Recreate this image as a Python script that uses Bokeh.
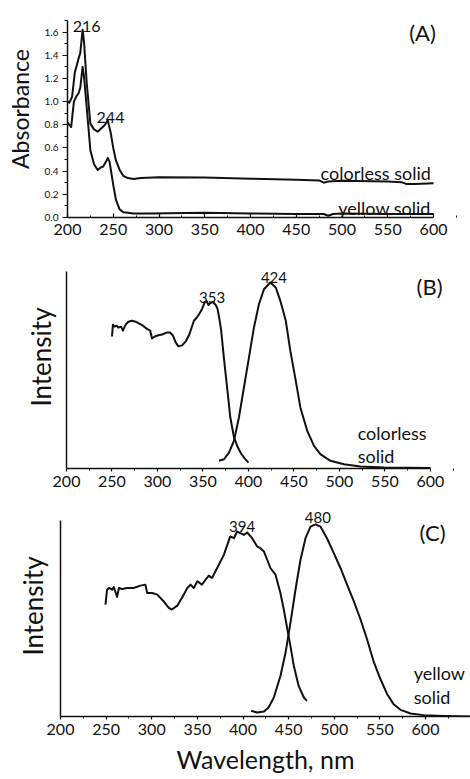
from bokeh.plotting import figure
from bokeh.models import Label, FixedTicker, Range1d
from bokeh.layouts import column, row
from bokeh.embed import file_html
from bokeh.resources import INLINE

FONT = "Lato"
INK = "#111111"

# ---------------- data ----------------
# (A) absorbance
wl_A_colorless = [200, 202, 205, 208, 210, 212, 214, 216.5, 218, 221, 225, 229, 233, 237, 241, 244,
                  247, 250, 253, 257, 261, 266, 272, 280, 300, 350, 400, 450, 475, 480, 485,
                  500, 550, 565, 570, 580, 600]
abs_A_colorless = [1.00, 0.99, 1.04, 1.25, 1.31, 1.37, 1.42, 1.62, 1.52, 1.16, 0.81, 0.76, 0.74, 0.77,
                   0.80, 0.84, 0.74, 0.60, 0.49, 0.41, 0.36, 0.34, 0.333, 0.34, 0.347, 0.345,
                   0.335, 0.325, 0.32, 0.30, 0.31, 0.318, 0.31, 0.305, 0.29, 0.29, 0.295]

wl_A_yellow = [200, 202, 204, 207, 210, 212, 214, 216.5, 218, 221, 225, 229, 233, 236, 239, 242,
               244, 246, 248, 250, 253, 257, 261, 266, 272, 290, 350, 400, 450, 480, 485,
               490, 500, 550, 600]
abs_A_yellow = [0.82, 0.80, 0.78, 1.00, 1.05, 1.07, 1.12, 1.30, 1.22, 0.95, 0.58, 0.46, 0.41, 0.43,
                0.44, 0.48, 0.515, 0.48, 0.38, 0.28, 0.15, 0.07, 0.045, 0.04, 0.035, 0.035,
                0.04, 0.035, 0.03, 0.03, 0.015, 0.03, 0.035, 0.03, 0.03]

# (B) colorless solid: excitation and emission
wl_B_exc = [250, 250.5, 251, 253, 255, 257, 260, 262, 265, 268, 272, 276, 280, 284, 288, 292,
            294, 297, 300, 305, 310, 314, 317, 320, 323, 327, 331, 335, 340, 343, 346, 349,
            352, 354, 356, 358, 361, 364, 366, 368, 370, 373, 377, 380, 384, 388, 392, 396, 400]
int_B_exc = [0.67, 0.70, 0.73, 0.72, 0.725, 0.715, 0.72, 0.70, 0.73, 0.745, 0.75, 0.745, 0.735,
             0.725, 0.71, 0.70, 0.66, 0.67, 0.675, 0.68, 0.69, 0.69, 0.675, 0.64, 0.62, 0.625,
             0.645, 0.68, 0.75, 0.765, 0.785, 0.81, 0.845, 0.85, 0.83, 0.84, 0.845, 0.83, 0.81,
             0.76, 0.70, 0.56, 0.39, 0.26, 0.16, 0.11, 0.075, 0.05, 0.03]

wl_B_em = [367.6, 373, 378.6, 384, 389.5, 395, 400.5, 406, 411.5, 417, 424, 430, 435, 441, 446,
           452, 457, 464.6, 472, 479, 490, 505, 523, 549, 600]
int_B_em = [0.039, 0.047, 0.081, 0.14, 0.259, 0.411, 0.563, 0.716, 0.834, 0.91, 0.944, 0.919,
            0.851, 0.75, 0.597, 0.445, 0.31, 0.191, 0.115, 0.073, 0.039, 0.022, 0.01, 0.005, 0.002]

# (C) yellow solid: excitation and emission
wl_C_exc = [249.3, 251, 253, 256.6, 258.4, 262, 264, 267.6, 273, 280, 287.7, 293, 295, 300.5,
            306, 313, 318.7, 322, 328, 333, 339, 342.5, 346, 350, 355, 359, 362.6, 366, 371.7,
            379, 386, 390, 393.6, 397, 401, 404.6, 410, 415.5, 419, 423, 426.5, 430, 435.6,
            441, 444.7, 448, 452, 455.7, 461, 466.7, 470]
int_C_exc = [0.571, 0.647, 0.656, 0.647, 0.661, 0.61, 0.656, 0.651, 0.656, 0.656, 0.668, 0.673,
             0.63, 0.63, 0.622, 0.588, 0.554, 0.546, 0.566, 0.605, 0.656, 0.673, 0.656, 0.69,
             0.673, 0.698, 0.719, 0.707, 0.758, 0.825, 0.919, 0.91, 0.944, 0.936, 0.927, 0.939,
             0.91, 0.868, 0.859, 0.842, 0.8, 0.758, 0.724, 0.63, 0.546, 0.461, 0.359, 0.258,
             0.156, 0.097, 0.08]

wl_C_em = [409, 415.5, 423, 428, 433.8, 441, 446.6, 452, 457.5, 463, 468.5, 474, 479.5, 485,
           492, 499.5, 506.8, 514, 521.5, 528.8, 536, 543, 550.7, 558, 565, 572.6, 583.6, 598,
           620, 649]
int_C_em = [0.029, 0.02, 0.025, 0.046, 0.097, 0.207, 0.325, 0.478, 0.647, 0.8, 0.91, 0.969, 0.981,
            0.969, 0.91, 0.834, 0.758, 0.673, 0.588, 0.495, 0.393, 0.283, 0.19, 0.114, 0.063,
            0.034, 0.015, 0.007, 0.003, 0.0]

# ticks
x_ticks = [200, 250, 300, 350, 400, 450, 500, 550, 600]
x_minor = [225, 275, 325, 375, 425, 475, 525, 575, 625]
yA_ticks = [0.0, 0.2, 0.4, 0.6, 0.8, 1.0, 1.2, 1.4, 1.6]
yA_tick_labels = ["0.0", "0.2", "0.4", "0.6", "0.8", "1.0", "1.2", "1.4", "1.6"]
yA_minor = [0.1, 0.3, 0.5, 0.7, 0.9, 1.1, 1.3, 1.5, 1.7]

# peak annotations
peak_A = [216, 244]
peak_B = [353, 424]
peak_C = [394, 480]


def make_fig(height, x_end, y_end, left, bottom):
    p = figure(width=470, height=height, x_range=Range1d(200, x_end), y_range=Range1d(0, y_end),
               output_backend="svg", toolbar_location=None,
               min_border_left=left, min_border_right=0, min_border_top=0,
               min_border_bottom=bottom)
    p.grid.visible = False
    p.outline_line_color = None
    p.background_fill_color = "white"
    p.border_fill_color = "white"
    for ax in (p.xaxis[0], p.yaxis[0]):
        ax.axis_line_color = INK
        ax.axis_line_width = 1.5
        ax.major_tick_line_color = INK
        ax.minor_tick_line_color = INK
        ax.major_tick_line_width = 1.2
        ax.minor_tick_line_width = 1.0
        ax.major_label_text_font = FONT
        ax.major_label_text_color = INK
        ax.axis_label_text_font = FONT
        ax.axis_label_text_font_style = "normal"
        ax.axis_label_text_color = INK
        ax.axis_label_text_font_size = "26px"
    p.xaxis.ticker = FixedTicker(ticks=x_ticks, minor_ticks=x_minor)
    p.xaxis.major_label_text_font_size = "16px"
    return p


def lab(p, x, y, text, size, align="center", baseline="alphabetic"):
    p.add_layout(Label(x=x, y=y, text=text, text_font=FONT, text_font_size=size,
                       text_color=INK, text_align=align, text_baseline=baseline))


# ---------------- (A) ----------------
pA = make_fig(245, 640.4, 1.872, 67, 28)
pA.yaxis.bounds = (0, 1.7)
pA.xaxis.bounds = (200, 600)
pA.yaxis.ticker = FixedTicker(ticks=yA_ticks, minor_ticks=yA_minor)
pA.yaxis.major_label_overrides = {t: s for t, s in zip(yA_ticks, yA_tick_labels)}
pA.yaxis.major_label_text_font_size = "10px"
pA.yaxis.major_tick_out = 5
pA.yaxis.major_tick_in = 0
pA.yaxis.minor_tick_out = 3
pA.yaxis.minor_tick_in = 0
pA.yaxis.major_label_standoff = 4
pA.yaxis.axis_label = "Absorbance"
pA.yaxis.axis_label_text_font_size = "23px"
pA.yaxis.axis_label_standoff = 8
pA.xaxis.major_tick_in = 4
pA.xaxis.major_tick_out = 0
pA.xaxis.minor_tick_in = 2
pA.xaxis.minor_tick_out = 0
pA.xaxis.major_label_standoff = 6
pA.line(wl_A_colorless, abs_A_colorless, line_color=INK, line_width=2, line_join="round")
pA.line(wl_A_yellow, abs_A_yellow, line_color=INK, line_width=2, line_join="round")
lab(pA, peak_A[0] + 5, 1.65, str(peak_A[0]), "16px")
lab(pA, peak_A[1] + 3, 0.86, str(peak_A[1]), "16px")
lab(pA, 588, 1.60, "(A)", "22px")
lab(pA, 597, 0.385, "colorless solid", "18px", align="right")
lab(pA, 597, 0.085, "yellow solid", "18px", align="right")


def intensity_axis(p, standoff):
    p.yaxis.bounds = (0, 1)
    p.yaxis.ticker = FixedTicker(ticks=[])
    p.yaxis.major_tick_out = 0
    p.yaxis.major_tick_in = 0
    p.yaxis.minor_tick_out = 0
    p.yaxis.minor_tick_in = 0
    p.yaxis.major_label_standoff = 0
    p.yaxis.axis_label = "Intensity"
    p.yaxis.axis_label_standoff = standoff
    p.xaxis.major_tick_in = 0
    p.xaxis.major_tick_out = 3
    p.xaxis.minor_tick_in = 0
    p.xaxis.minor_tick_out = 2
    p.xaxis.major_label_standoff = 4


# ---------------- (B) ----------------
pB = make_fig(250, 644.0, 1.132, 66, 27)
intensity_axis(pB, 10)
pB.xaxis.bounds = (200, 600)
pB.line(wl_B_exc, int_B_exc, line_color=INK, line_width=2, line_join="round")
pB.line(wl_B_em, int_B_em, line_color=INK, line_width=2, line_join="round")
lab(pB, peak_B[0] + 7, 0.87, str(peak_B[0]), "15px")
lab(pB, peak_B[1] + 4, 0.97, str(peak_B[1]), "15px")
lab(pB, 599, 0.925, "(B)", "22px")
lab(pB, 520, 0.178, "colorless", "18px", align="left")
lab(pB, 520, 0.061, "solid", "18px", align="left")

# ---------------- (C) ----------------
pC = make_fig(284, 649.3, 1.128, 60, 63)
intensity_axis(pC, 12)
pC.xaxis.axis_label = "Wavelength, nm"
pC.xaxis.axis_label_text_font_size = "25px"
pC.xaxis.axis_label_standoff = 6
pC.line(wl_C_exc, int_C_exc, line_color=INK, line_width=2, line_join="round")
pC.line(wl_C_em, int_C_em, line_color=INK, line_width=2, line_join="round")
lab(pC, peak_C[0] + 5, 0.97, str(peak_C[0]), "15px")
lab(pC, peak_C[1] + 2, 1.015, str(peak_C[1]), "15px")
lab(pC, 607.7, 0.94, "(C)", "22px")
lab(pC, 587, 0.22, "yellow", "18px", align="left")
lab(pC, 587, 0.10, "solid", "18px", align="left")

layout = column(row(pA), row(pB), row(pC))
open("out.html", "w").write(file_html(layout, INLINE))
